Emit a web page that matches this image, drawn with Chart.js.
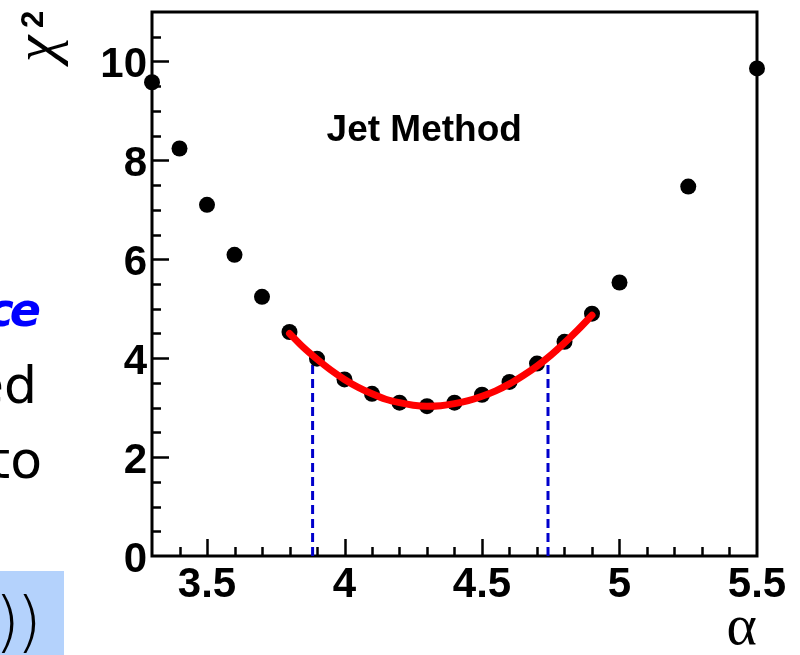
<!DOCTYPE html>
<html>
<head>
<meta charset="utf-8">
<script src="https://cdn.jsdelivr.net/npm/chart.js@4.4.0/dist/chart.umd.min.js"></script>
<style>
  html, body { margin: 0; padding: 0; background: #fff; }
  #wrap { position: relative; width: 800px; height: 655px; overflow: hidden; }
  #chi2Chart { position: absolute; left: 0; top: 0; }
  .frag { position: absolute; right: 763px; font-family: "DejaVu Sans", sans-serif; font-size: 52px; line-height: 52px; white-space: nowrap; color: #000; }
  #box { position: absolute; left: 0; top: 571px; width: 64px; height: 84px; background: #b4d2fc; overflow: hidden; }
  #box span { position: absolute; right: 26px; top: 18px; font-family: "DejaVu Sans", sans-serif; font-weight: 200; font-size: 66px; line-height: 66px; letter-spacing: -4px; }
</style>
</head>
<body>
<div id="wrap">
  <canvas id="chi2Chart" width="800" height="655"></canvas>
  <div class="frag" style="top:284px;color:#0000ff;font-weight:bold;font-style:italic;font-size:46px;letter-spacing:-4px">ce</div>
  <div class="frag" style="top:359px">ed</div>
  <div class="frag" style="top:434px;right:758px">to</div>
  <div id="box"><span>))</span></div>
</div>
<script>
// nilai chi2 hasil scan alpha
const alphaPoints = [3.3, 3.4, 3.5, 3.6, 3.7, 3.8, 3.9, 4.0, 4.1, 4.2, 4.3, 4.4, 4.5, 4.6, 4.7, 4.8, 4.9, 5.0, 5.25, 5.5];
const chi2Points  = [9.58, 8.24, 7.10, 6.09, 5.24, 4.53, 3.99, 3.57, 3.28, 3.10, 3.03, 3.10, 3.26, 3.52, 3.89, 4.33, 4.90, 5.53, 7.47, 9.86];

// kurva fit merah
const fitAlpha = [3.80, 3.85, 3.90, 3.95, 4.00, 4.05, 4.10, 4.15, 4.20, 4.25, 4.30, 4.35, 4.40, 4.45, 4.50, 4.55, 4.60, 4.65, 4.70, 4.75, 4.80, 4.85, 4.90];
const fitChi2  = [4.50, 4.22, 3.98, 3.76, 3.57, 3.41, 3.28, 3.17, 3.10, 3.05, 3.03, 3.04, 3.08, 3.14, 3.23, 3.34, 3.48, 3.65, 3.84, 4.06, 4.31, 4.58, 4.87];

// batas error (garis putus-putus biru)
const errAlpha = [3.884, 4.740];
const errChi2  = [4.03, 4.03];

const xTickLabels = [3.5, 4, 4.5, 5, 5.5];
const yTickLabels = [0, 2, 4, 6, 8, 10];
const plotLabel = 'Jet Method';

const xMin = 3.3, xMax = 5.5, yMin = 0, yMax = 11;

// frame + tick ke dalam ala ROOT
const rootFrame = {
  id: 'rootFrame',
  beforeDatasetsDraw(chart) {
    const { ctx, chartArea: a, scales: { x, y } } = chart;
    ctx.save();
    ctx.strokeStyle = '#000';
    ctx.lineWidth = 2.5;
    ctx.beginPath();
    for (let v = 3.4; v < xMax - 0.01; v += 0.1) {
      const px = Math.round(x.getPixelForValue(v)) + 0.5;
      const major = xTickLabels.some(t => Math.abs(t - v) < 0.01);
      ctx.moveTo(px, a.bottom);
      ctx.lineTo(px, a.bottom - (major ? 17 : 9));
    }
    for (let v = 0.5; v < yMax; v += 0.5) {
      const py = Math.round(y.getPixelForValue(v)) + 0.5;
      const major = yTickLabels.includes(v);
      ctx.moveTo(a.left, py);
      ctx.lineTo(a.left + (major ? 17 : 9), py);
    }
    ctx.stroke();
    ctx.lineWidth = 3;
    ctx.strokeRect(a.left, a.top, a.right - a.left, a.bottom - a.top);
    ctx.restore();
  },
  afterDraw(chart) {
    const { ctx, scales: { x, y } } = chart;
    ctx.save();
    ctx.fillStyle = '#000';
    ctx.font = 'bold 37px "Liberation Sans", Arial, sans-serif';
    ctx.textAlign = 'center';
    ctx.textBaseline = 'middle';
    ctx.fillText(plotLabel, x.getPixelForValue(4.29), y.getPixelForValue(8.6));

    // judul sumbu y: chi kuadrat, diputar
    ctx.translate(55, 62);
    ctx.rotate(-Math.PI / 2);
    ctx.textAlign = 'left';
    ctx.textBaseline = 'alphabetic';
    ctx.font = 'italic 60px "Liberation Serif", serif';
    ctx.fillText('χ', 0, 0);
    ctx.font = 'bold 31px "Liberation Sans", Arial, sans-serif';
    ctx.fillText('2', 34, -12);
    ctx.restore();
  }
};

const tickFont = { family: '"Liberation Sans", Arial, sans-serif', size: 42, weight: 'bold' };

const ctx = document.getElementById('chi2Chart').getContext('2d');
const chi2Chart = new Chart(ctx, {
  type: 'scatter',
  data: {
    datasets: [
      {
        label: 'fit',
        data: fitAlpha.map((a, i) => ({ x: a, y: fitChi2[i] })),
        showLine: true,
        borderColor: '#ff0000',
        borderWidth: 7,
        borderCapStyle: 'round',
        pointRadius: 0,
        cubicInterpolationMode: 'monotone',
        order: 0
      },
      {
        label: 'chi2',
        data: alphaPoints.map((a, i) => ({ x: a, y: chi2Points[i] })),
        backgroundColor: '#000',
        borderWidth: 0,
        pointRadius: 8,
        clip: false,
        order: 1
      },
      ...errAlpha.map((a, i) => ({
        label: 'err' + i,
        data: [{ x: a, y: 0 }, { x: a, y: errChi2[i] }],
        showLine: true,
        borderColor: '#0000cc',
        borderWidth: 3,
        borderDash: [9, 5],
        pointRadius: 0,
        order: 2
      }))
    ]
  },
  options: {
    responsive: false,
    animation: false,
    devicePixelRatio: 1,
    layout: { padding: { left: 0, top: 12, right: 43, bottom: 0 } },
    plugins: {
      legend: { display: false },
      tooltip: { enabled: false }
    },
    scales: {
      x: {
        type: 'linear',
        min: xMin,
        max: xMax,
        afterBuildTicks: s => { s.ticks = xTickLabels.map(v => ({ value: v })); },
        afterFit: s => { s.height = 99; s.paddingLeft = 0; s.paddingRight = 0; },
        grid: { display: false, drawTicks: false },
        border: { display: false },
        ticks: { color: '#000', font: tickFont, padding: 4, maxRotation: 0, autoSkip: false, callback: v => String(v) },
        title: {
          display: true,
          text: 'α',
          align: 'end',
          color: '#000',
          font: { family: '"Liberation Serif", serif', size: 58, lineHeight: 1 },
          padding: { top: 0, bottom: -3 }
        }
      },
      y: {
        type: 'linear',
        min: yMin,
        max: yMax,
        afterBuildTicks: s => { s.ticks = yTickLabels.map(v => ({ value: v })); },
        afterFit: s => { s.width = 152; s.paddingTop = 0; s.paddingBottom = 0; },
        grid: { display: false, drawTicks: false },
        border: { display: false },
        ticks: { color: '#000', font: tickFont, padding: 5, labelOffset: 4, autoSkip: false, callback: v => String(v) }
      }
    }
  },
  plugins: [rootFrame]
});
</script>
</body>
</html>
